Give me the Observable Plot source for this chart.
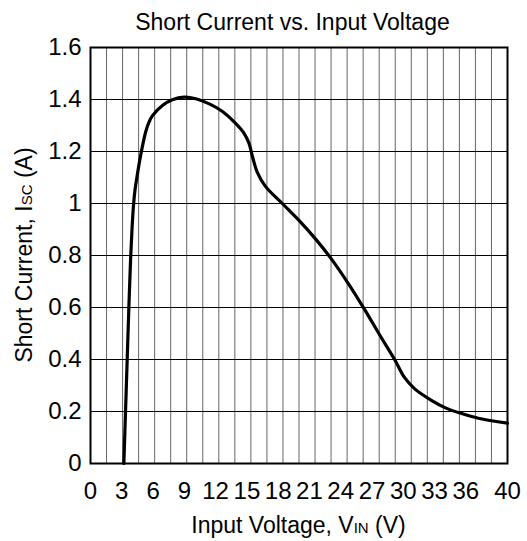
<!DOCTYPE html>
<html>
<head>
<meta charset="utf-8">
<script src="https://cdn.jsdelivr.net/npm/d3@7"></script>
<script src="https://cdn.jsdelivr.net/npm/@observablehq/plot@0.6"></script>
<style>
  html, body { margin: 0; padding: 0; background: #fff; }
  body { width: 527px; height: 541px; overflow: hidden; font-family: "Liberation Sans", Arial, sans-serif; }
  #chart svg { display: block; overflow: visible; }
</style>
</head>
<body>
<div id="chart"></div>
<script>
// Data
const voltage = [3.2, 3.36, 3.52, 3.68, 3.85, 3.98, 4.1, 4.25, 4.45, 4.81, 5.29, 5.6, 5.93, 6.9, 7.85, 8.97, 10.1, 11.4, 12.66, 13.8, 14.7, 15.2, 15.55, 16.0, 16.8, 18.4, 20.0, 21.6, 23.1, 24.7, 26.3, 27.7, 29.2, 30.1, 31.1, 32.7, 34.0, 35.6, 37.2, 40];
const current = [0, 0.2, 0.4, 0.6, 0.79, 0.9, 0.98, 1.045, 1.1, 1.185, 1.275, 1.312, 1.337, 1.377, 1.399, 1.409, 1.403, 1.383, 1.354, 1.313, 1.272, 1.232, 1.178, 1.12, 1.065, 1.0, 0.935, 0.863, 0.787, 0.694, 0.592, 0.497, 0.398, 0.332, 0.287, 0.243, 0.215, 0.192, 0.174, 0.155];

const xTicks = [0, 3, 6, 9, 12, 15, 18, 21, 24, 27, 30, 33, 36, 40];
const yTicks = [0, 0.2, 0.4, 0.6, 0.8, 1, 1.2, 1.4, 1.6];
const xDomain = [0, 40];
const yDomain = [0, 1.6];
const xGridCount = 26;

const titleText = "Short Current vs. Input Voltage";
const xLabelParts = ["Input Voltage, V", "IN", " (V)"];
const yLabelParts = ["Short Current, I", "SC", " (A)"];

const data = voltage.map((v, i) => ({v, i: current[i]}));
const xGrid = d3.range(xGridCount + 1).map(k => xDomain[0] + k * (xDomain[1] - xDomain[0]) / xGridCount);

const font = "'Liberation Sans', Arial, sans-serif";
const plot = Plot.plot({
  width: 527,
  height: 541,
  marginTop: 47,
  marginLeft: 90,
  marginRight: 20,
  marginBottom: 78,
  style: {fontFamily: font, fontSize: "24px", color: "#000", background: "#fff", overflow: "visible"},
  x: {domain: xDomain},
  y: {domain: yDomain},
  marks: [
    Plot.ruleX(xGrid, {stroke: "#666", strokeWidth: 1}),
    Plot.ruleY(yTicks, {stroke: "#000", strokeWidth: 1}),
    Plot.frame({stroke: "#000", strokeWidth: 2}),
    Plot.line(data, {x: "v", y: "i", stroke: "#000", strokeWidth: 3.2, curve: "catmull-rom"}),
    Plot.axisX({ticks: xTicks, tickFormat: d => String(d), tickSize: 0, tickPadding: 18, label: null, fontSize: 24}),
    Plot.axisY({ticks: yTicks, tickFormat: d => String(d), tickSize: 0, tickPadding: 9, label: null, fontSize: 24})
  ]
});
document.getElementById("chart").appendChild(plot);

// Title and axis labels (with subscripts)
const svg = d3.select(plot);
const xs = plot.scale("x"), ys = plot.scale("y");
const cx = (xs.range[0] + xs.range[1]) / 2;
const cy = (ys.range[0] + ys.range[1]) / 2;

svg.append("text")
  .attr("x", cx - 6).attr("y", ys.range[1] - 17)
  .attr("text-anchor", "middle")
  .attr("font-family", font).attr("font-size", 23).attr("fill", "#000")
  .text(titleText);

const xl = svg.append("text")
  .attr("x", cx).attr("y", ys.range[0] + 70)
  .attr("text-anchor", "middle")
  .attr("font-family", font).attr("font-size", 23).attr("fill", "#000");
xl.append("tspan").text(xLabelParts[0]);
xl.append("tspan").attr("font-size", 15).text(xLabelParts[1]);
xl.append("tspan").text(xLabelParts[2]);

const yl = svg.append("text")
  .attr("transform", `translate(${xs.range[0] - 58},${cy}) rotate(-90)`)
  .attr("text-anchor", "middle")
  .attr("font-family", font).attr("font-size", 23).attr("fill", "#000");
yl.append("tspan").text(yLabelParts[0]);
yl.append("tspan").attr("font-size", 15).text(yLabelParts[1]);
yl.append("tspan").text(yLabelParts[2]);
</script>
</body>
</html>
